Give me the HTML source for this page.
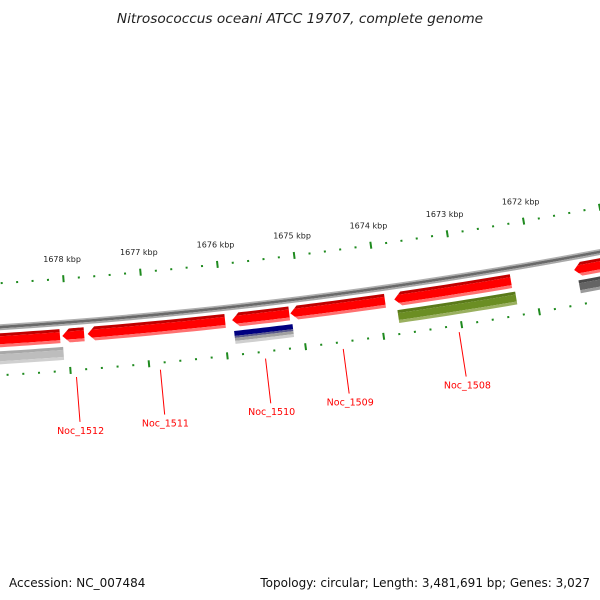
<!DOCTYPE html>
<html><head><meta charset="utf-8"><style>
html,body{margin:0;padding:0;background:#fff;}
svg{display:block;font-family:"DejaVu Sans","Liberation Sans",sans-serif;}
</style></head><body>
<svg id="map" width="600" height="600" viewBox="0 0 600 600" xmlns="http://www.w3.org/2000/svg">
<text x="300" y="23" text-anchor="middle" font-size="13.7" font-style="italic" fill="#222">Nitrosococcus oceani ATCC 19707, complete genome</text>
<text x="9" y="587" font-size="12" fill="#111">Accession: NC_007484</text>
<text x="590" y="587" text-anchor="end" font-size="12" fill="#111">Topology: circular; Length: 3,481,691 bp; Genes: 3,027</text>
<g id="layer"></g>
</svg>
<script>
// data
const geneNames = ["", "Noc_1512", "Noc_1511", "Noc_1510", "Noc_1509", "Noc_1508", ""];
const geneStartKbp = [1679.2, 1678.07, 1677.745, 1675.89, 1675.14, 1673.80, 1671.47];
const geneEndKbp   = [1678.10, 1677.79, 1675.98, 1675.155, 1673.92, 1672.29, 1670.0];
const featStartKbp = [1679.2, 1675.88, 1673.78, 1671.44];
const featEndKbp   = [1678.07, 1675.13, 1672.26, 1670.0];
const featKinds    = ["lightgrey", "blue", "green", "darkgrey"];
const tickMajorKbp = [1678, 1677, 1676, 1675, 1674, 1673, 1672];
const tickLabels   = ["1678 kbp","1677 kbp","1676 kbp","1675 kbp","1674 kbp","1673 kbp","1672 kbp"];

const NS = "http://www.w3.org/2000/svg";
const layer = document.getElementById('layer');
const CX = -309, CY = -4567, R0 = 4904, A0 = Math.atan2(4821, 603), RADK = 0.01591;
function P(k, d) { const a = A0 + (k - 1675) * RADK, r = R0 + d; return [CX + r * Math.cos(a), CY + r * Math.sin(a)]; }
function mk(tag, attrs) { const e = document.createElementNS(NS, tag); for (const k in attrs) e.setAttribute(k, attrs[k]); layer.appendChild(e); return e; }
function f(p) { return p[0].toFixed(2) + "," + p[1].toFixed(2); }
function band(k1, k2, da, db, steps) {
  const pts = [];
  for (let i = 0; i <= steps; i++) pts.push(P(k2 + (k1 - k2) * i / steps, da));
  for (let i = steps; i >= 0; i--) pts.push(P(k2 + (k1 - k2) * i / steps, db));
  return pts.map(f).join(" ");
}
function arrow(k1, k2, da, db, D1, D2) {
  const h = 0.09, mid = (D1 + D2) / 2, half = (D2 - D1) / 2;
  const kl = d => k1 - h * Math.abs(d - mid) / half;
  const pts = [];
  const steps = 12;
  const ka = kl(da);
  for (let i = 0; i <= steps; i++) pts.push(P(k2 + (ka - k2) * i / steps, da));
  if (da < mid && db > mid) pts.push(P(k1, mid));
  const kb = kl(db);
  for (let i = steps; i >= 0; i--) pts.push(P(k2 + (kb - k2) * i / steps, db));
  return pts.map(f).join(" ");
}
// backbone
[[-3, -1.5, "#b0b0b0"], [-1.5, 1.2, "#6a6a6a"], [1.2, 3, "#a8a8a8"]].forEach(s => {
  const e = mk('polygon', {points: band(1680, 1669.5, s[0], s[1], 40), fill: s[2]});
  
  
});
// ticks
function tickRow(d, withLabels, rowName) {
  for (let k = 1671; k <= 1679.001; k += 0.2) {
    const kk = Math.round(k * 10) / 10;
    const major = Math.abs(kk - Math.round(kk)) < 0.01;
    const a = P(kk, d - (major ? 3.5 : 1)), b = P(kk, d + (major ? 3.5 : 1));
    const e = mk('line', {x1: a[0], y1: a[1], x2: b[0], y2: b[1], stroke: "#1e8a1e", "stroke-width": 2});
    
    
  }
  if (withLabels) tickMajorKbp.forEach((k, i) => {
    const p = P(k, d - 17);
    const t = mk('text', {x: p[0], y: p[1], "text-anchor": "middle", "font-size": 8, fill: "#222"});
    t.textContent = tickLabels[i];
    
    
  });
}
tickRow(-44, true, 'outer');
tickRow(48, false, 'inner');
// genes
const D1 = 6, D2 = 20;
geneStartKbp.forEach((k1, i) => {
  const k2 = geneEndKbp[i];
  [[D1, D1 + 3, "#c00000"], [D1 + 3, D2 - 3, "#ff0000"], [D2 - 3, D2, "#ff7070"]].forEach(s => {
    const e = mk('polygon', {points: arrow(k1, k2, s[0], s[1], D1, D2), fill: s[2]});
    
    
  });
  if (geneNames[i]) {
    const km = (k1 + k2) / 2;
    const a = P(km, 55), b = P(km, 100);
    const l = mk('line', {x1: a[0], y1: a[1], x2: b[0], y2: b[1], stroke: "#f00", "stroke-width": 1});
    
    
    const p = P(km, 108);
    const t = mk('text', {x: p[0], y: p[1] + 4, "text-anchor": "middle", "font-size": 9.5, fill: "#f00"});
    t.textContent = geneNames[i];
    
    
  }
});
// features
const featColors = {
  lightgrey: [["#a8a8a8", 3], ["#bdbdbd", 7], ["#d0d0d0", 3]],
  blue: [["#000080", 5], ["#5a5a8a", 2], ["#a0a0a0", 3], ["#cfcfcf", 3]],
  green: [["#5a7a1a", 3], ["#6b8e23", 7], ["#9ab060", 3]],
  darkgrey: [["#4a4a4a", 3], ["#646464", 7], ["#9a9a9a", 3]]
};
featStartKbp.forEach((k1, i) => {
  let d = 24;
  featColors[featKinds[i]].forEach(s => {
    const e = mk('polygon', {points: band(k1, featEndKbp[i], d, d + s[1], 12), fill: s[0]});
    
    
    d += s[1];
  });
});
</script>
</body></html>
